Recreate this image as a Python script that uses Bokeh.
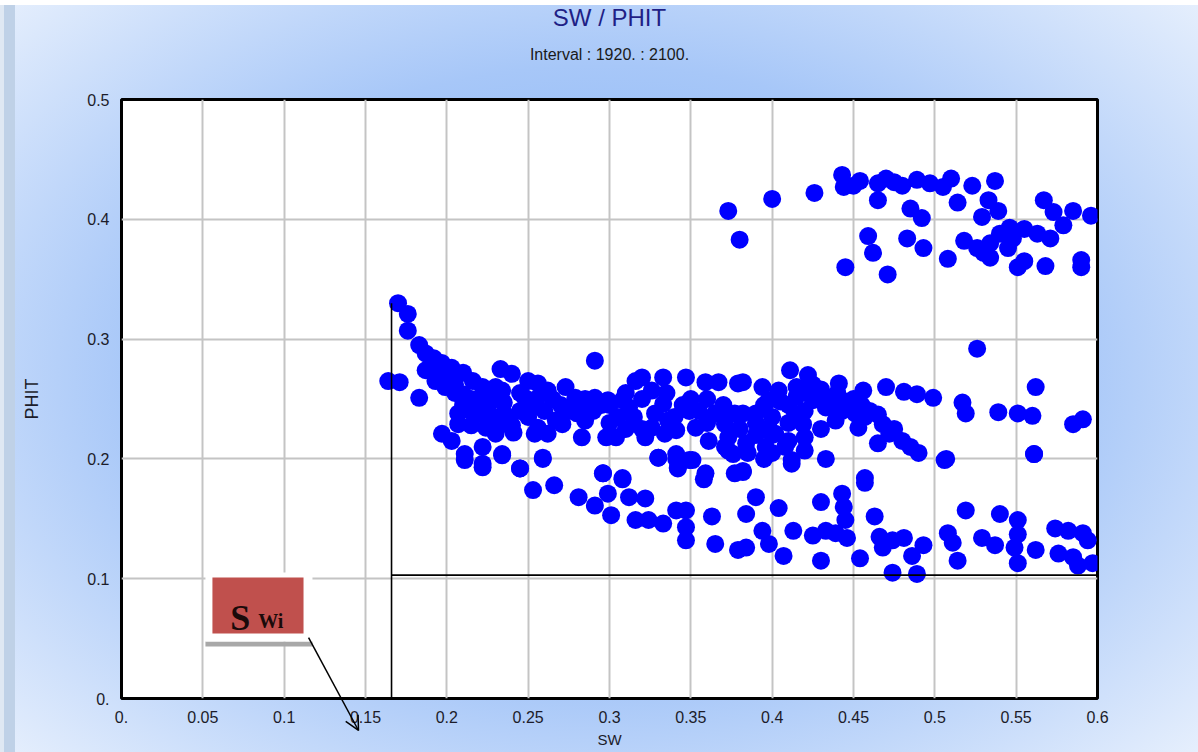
from bokeh.plotting import figure
from bokeh.layouts import column
from bokeh.models import ColumnDataSource, FixedTicker, LinearAxis, Arrow, OpenHead, Range1d
from bokeh.core.properties import value
from bokeh.embed import file_html
from bokeh.resources import INLINE

# ---- data ----
sw = [
    # upper cluster
    0.373, 0.380, 0.400, 0.426, 0.443, 0.444, 0.454, 0.465, 0.475, 0.489, 0.497, 0.465,
    0.510, 0.505, 0.514, 0.523, 0.537, 0.533, 0.529, 0.539, 0.485, 0.492, 0.459, 0.462,
    0.445, 0.471, 0.483, 0.493, 0.508, 0.518, 0.526, 0.534, 0.534, 0.540, 0.546, 0.555,
    0.563, 0.571, 0.551, 0.568, 0.590, 0.590, 0.567, 0.573, 0.579, 0.585, 0.596, 0.526,
    0.450, 0.470, 0.480, 0.530, 0.545, 0.555, 0.548,
    # main band
    0.170, 0.176, 0.176, 0.183, 0.187, 0.192, 0.197, 0.203, 0.210, 0.216, 0.222, 0.187,
    0.193, 0.199, 0.164, 0.171, 0.183, 0.210, 0.207, 0.207, 0.197, 0.203, 0.211, 0.222,
    0.222, 0.234, 0.224, 0.230, 0.219, 0.228, 0.234, 0.233, 0.240, 0.238, 0.241, 0.234,
    0.250, 0.256, 0.262, 0.248, 0.253, 0.256, 0.254, 0.262, 0.267, 0.271, 0.259, 0.245,
    0.273, 0.279, 0.283, 0.285, 0.283, 0.291, 0.291, 0.299, 0.298, 0.304, 0.308, 0.312,
    0.316, 0.320, 0.333, 0.347, 0.359, 0.367, 0.379, 0.326, 0.333, 0.328, 0.322, 0.326,
    0.336, 0.334, 0.341, 0.349, 0.353, 0.361, 0.365, 0.371, 0.377, 0.373, 0.371, 0.330,
    0.341, 0.349, 0.342, 0.359, 0.376, 0.296, 0.308,
    0.411, 0.422, 0.441, 0.456, 0.470, 0.481, 0.489, 0.499, 0.562, 0.517, 0.519, 0.539,
    0.551, 0.560, 0.585, 0.591, 0.561, 0.506, 0.382, 0.394, 0.404, 0.398, 0.382, 0.390,
    0.419, 0.425, 0.433, 0.443, 0.451, 0.457, 0.428, 0.414, 0.398, 0.419, 0.439, 0.453,
    0.468, 0.472, 0.480, 0.490, 0.465, 0.384, 0.396, 0.408, 0.412, 0.420, 0.433, 0.402,
    0.382, 0.457,
    0.205, 0.215, 0.225, 0.235, 0.245, 0.215, 0.228, 0.240, 0.250, 0.260, 0.270, 0.280,
    0.290, 0.300, 0.310, 0.320, 0.335, 0.345, 0.355, 0.360, 0.370, 0.395, 0.405, 0.415,
    0.425, 0.430, 0.435, 0.410, 0.420, 0.390, 0.400, 0.410, 0.430, 0.445, 0.450, 0.460,
    0.195, 0.200, 0.205, 0.210, 0.215, 0.220, 0.230, 0.235, 0.245, 0.255, 0.265, 0.275,
    0.285, 0.295, 0.305, 0.315, 0.320, 0.310, 0.300, 0.340, 0.350, 0.360, 0.370, 0.380,
    0.390, 0.400, 0.410, 0.415, 0.420, 0.435, 0.440, 0.450, 0.455, 0.465, 0.475, 0.485,
    0.400, 0.385, 0.395,
    # lower band
    0.211, 0.222, 0.234, 0.245, 0.259, 0.253, 0.266, 0.281, 0.296, 0.291, 0.299, 0.308,
    0.312, 0.301, 0.322, 0.316, 0.324, 0.333, 0.341, 0.347, 0.347, 0.347, 0.363, 0.365,
    0.379, 0.330, 0.341, 0.342, 0.351, 0.358, 0.377, 0.373,
    0.390, 0.384, 0.404, 0.394, 0.384, 0.398, 0.407, 0.413, 0.430, 0.425, 0.433, 0.439,
    0.430, 0.443, 0.444, 0.445, 0.446, 0.457, 0.454, 0.463, 0.466, 0.468, 0.474, 0.481,
    0.474, 0.489, 0.486, 0.493, 0.508, 0.511, 0.514, 0.519, 0.529, 0.537, 0.540, 0.551,
    0.551, 0.549, 0.551, 0.562, 0.574, 0.582, 0.591, 0.594, 0.576, 0.585, 0.588, 0.597,
    0.507, 0.561, 0.382, 0.412,
]
phit = [
    # upper cluster
    0.407, 0.383, 0.417, 0.422, 0.437, 0.427, 0.432, 0.430, 0.431, 0.433, 0.430, 0.416,
    0.434, 0.427, 0.414, 0.428, 0.432, 0.416, 0.402, 0.407, 0.409, 0.401, 0.386, 0.372,
    0.360, 0.354, 0.384, 0.376, 0.367, 0.382, 0.376, 0.368, 0.380, 0.388, 0.393, 0.392,
    0.388, 0.384, 0.360, 0.361, 0.366, 0.360, 0.416, 0.406, 0.395, 0.407, 0.403, 0.292,
    0.428, 0.434, 0.428, 0.372, 0.376, 0.365, 0.384,
    # main band
    0.330, 0.321, 0.307, 0.295, 0.288, 0.284, 0.280, 0.276, 0.272, 0.265, 0.260, 0.274,
    0.265, 0.260, 0.265, 0.264, 0.251, 0.254, 0.238, 0.229, 0.221, 0.215, 0.204, 0.210,
    0.196, 0.204, 0.226, 0.221, 0.238, 0.249, 0.257, 0.275, 0.271, 0.235, 0.222, 0.229,
    0.265, 0.263, 0.257, 0.251, 0.243, 0.226, 0.221, 0.221, 0.232, 0.229, 0.201, 0.192,
    0.260, 0.251, 0.243, 0.232, 0.218, 0.282, 0.251, 0.249, 0.218, 0.218, 0.249, 0.243,
    0.265, 0.268, 0.268, 0.268, 0.264, 0.264, 0.263, 0.257, 0.246, 0.238, 0.218, 0.226,
    0.232, 0.221, 0.224, 0.240, 0.226, 0.215, 0.238, 0.229, 0.238, 0.218, 0.210, 0.201,
    0.204, 0.199, 0.193, 0.188, 0.204, 0.188, 0.184,
    0.274, 0.270, 0.263, 0.257, 0.260, 0.256, 0.254, 0.251, 0.260, 0.247, 0.238, 0.239,
    0.238, 0.236, 0.229, 0.233, 0.204, 0.199, 0.264, 0.260, 0.257, 0.249, 0.238, 0.238,
    0.257, 0.249, 0.243, 0.240, 0.238, 0.235, 0.255, 0.238, 0.226, 0.229, 0.232, 0.226,
    0.229, 0.221, 0.215, 0.205, 0.213, 0.213, 0.210, 0.210, 0.196, 0.207, 0.200, 0.221,
    0.190, 0.184,
    0.262, 0.250, 0.242, 0.247, 0.255, 0.228, 0.233, 0.228, 0.235, 0.240, 0.245, 0.238,
    0.240, 0.245, 0.255, 0.250, 0.255, 0.245, 0.240, 0.250, 0.245, 0.245, 0.248, 0.252,
    0.262, 0.258, 0.250, 0.230, 0.218, 0.220, 0.205, 0.215, 0.225, 0.248, 0.245, 0.240,
    0.272, 0.268, 0.255, 0.245, 0.240, 0.250, 0.260, 0.238, 0.240, 0.250, 0.250, 0.240,
    0.250, 0.245, 0.235, 0.235, 0.225, 0.225, 0.230, 0.235, 0.250, 0.230, 0.235, 0.225,
    0.230, 0.235, 0.245, 0.260, 0.240, 0.245, 0.255, 0.250, 0.245, 0.237, 0.225, 0.210,
    0.220, 0.205, 0.200,
    # lower band
    0.199, 0.193, 0.203, 0.192, 0.200, 0.174, 0.178, 0.168, 0.188, 0.161, 0.171, 0.183,
    0.168, 0.153, 0.167, 0.149, 0.149, 0.146, 0.157, 0.157, 0.143, 0.132, 0.152, 0.129,
    0.124, 0.201, 0.200, 0.192, 0.199, 0.183, 0.188, 0.207,
    0.168, 0.154, 0.159, 0.140, 0.126, 0.129, 0.119, 0.140, 0.164, 0.136, 0.140, 0.138,
    0.115, 0.171, 0.160, 0.149, 0.134, 0.180, 0.117, 0.152, 0.135, 0.126, 0.132, 0.134,
    0.105, 0.104, 0.119, 0.128, 0.138, 0.130, 0.115, 0.157, 0.134, 0.128, 0.154, 0.149,
    0.137, 0.126, 0.113, 0.124, 0.142, 0.140, 0.138, 0.132, 0.121, 0.118, 0.111, 0.113,
    0.200, 0.204, 0.189, 0.199,
]

x_ticks = [0, 0.05, 0.1, 0.15, 0.2, 0.25, 0.3, 0.35, 0.4, 0.45, 0.5, 0.55, 0.6]
x_labels = ["0.", "0.05", "0.1", "0.15", "0.2", "0.25", "0.3", "0.35", "0.4", "0.45", "0.5", "0.55", "0.6"]
y_ticks = [0, 0.1, 0.2, 0.3, 0.4, 0.5]
y_labels = ["0.", "0.1", "0.2", "0.3", "0.4", "0.5"]

swi_value = 0.166      # irreducible water saturation cut-off
phit_cut = 0.103       # porosity cut-off
phit_top = 0.330

source = ColumnDataSource(dict(sw=sw, phit=phit))

W, H = 1198, 752
BL, BR, BT, BB = 121, 101, 99, 54

p = figure(width=W, height=H, output_backend="svg", toolbar_location=None,
           title=None, x_range=Range1d(0, 0.6), y_range=Range1d(0, 0.5),
           min_border_left=BL, min_border_right=BR, min_border_top=BT, min_border_bottom=BB)

p.styles = {"background": "linear-gradient(to bottom, #ffffff 0px, #ffffff 5px, rgba(255,255,255,0) 5px), "
                          "linear-gradient(to right, #dfe8f3 0px, #dfe8f3 4px, #bfd1e7 4px, #bfd1e7 15px, rgba(255,255,255,0) 15px), "
                          "radial-gradient(ellipse 70% 75% at 50% 50%, #78abf4 0%, #a7c7f8 55%, #e9f1fd 100%)"}
p.border_fill_color = None
p.background_fill_color = "white"
p.outline_line_color = "black"
p.outline_line_width = 3


def label_axis(text, size, color, standoff):
    return LinearAxis(ticker=FixedTicker(ticks=[]), axis_label=text,
                      axis_line_color=None, major_tick_line_color=None, minor_tick_line_color=None,
                      major_tick_out=0, major_label_standoff=0,
                      axis_label_standoff=standoff, axis_label_text_font="Liberation Sans",
                      axis_label_text_font_style="normal", axis_label_text_font_size=size,
                      axis_label_text_color=color)


# title block: subtitle nearest to the frame, main title above it
p.add_layout(label_axis("Interval : 1920. : 2100.", "16px", "#1a1a1a", 37), "above")
p.add_layout(label_axis("SW / PHIT", "24px", "#1f1f86", 12), "above")

# grid
p.xgrid.ticker = FixedTicker(ticks=x_ticks)
p.ygrid.ticker = FixedTicker(ticks=y_ticks)
p.grid.grid_line_color = "#c4c4c4"
p.grid.grid_line_width = 2

# axes
xa = p.below[0]
ya = p.left[0]
xa.ticker = FixedTicker(ticks=x_ticks)
ya.ticker = FixedTicker(ticks=y_ticks)
xa.major_label_overrides = {t: l for t, l in zip(x_ticks, x_labels)}
ya.major_label_overrides = {t: l for t, l in zip(y_ticks, y_labels)}
for ax in (xa, ya):
    ax.axis_line_color = None
    ax.major_tick_line_color = None
    ax.minor_tick_line_color = None
    ax.major_label_text_font = "Liberation Sans"
    ax.major_label_text_font_size = "16px"
    ax.major_label_text_color = "#1c1c2a"
    ax.axis_label_text_font = "Liberation Sans"
    ax.axis_label_text_font_style = "normal"
    ax.axis_label_text_color = "#1c1c2a"
xa.axis_label = "SW"
ya.axis_label = "PHIT"
xa.axis_label_text_font_size = "15px"
ya.axis_label_text_font_size = "18px"
xa.major_label_standoff = 6
ya.major_label_standoff = 6
xa.axis_label_standoff = 5
ya.axis_label_standoff = 42

# points
p.scatter("sw", "phit", source=source, size=18, fill_color="#0000ff", line_color=None)

# cut-off lines
p.segment(x0=[swi_value], y0=[0], x1=[swi_value], y1=[phit_top], line_color="black", line_width=1.6)
p.segment(x0=[swi_value], y0=[phit_cut], x1=[0.6], y1=[phit_cut], line_color="black", line_width=1.6)

# Swi callout box
p.quad(left=[0.0516], right=[0.1174], bottom=[0.0434], top=[0.0476], fill_color="#a8a8a8", line_color=None)
p.quad(left=[0.0516], right=[0.1174], bottom=[0.0476], top=[0.1052], fill_color="white", line_color=None)
p.quad(left=[0.0559], right=[0.1119], bottom=[0.0543], top=[0.1010], fill_color="#c0504d", line_color=None)
p.text(x=[0.0668], y=[0.0668], text=["S"], text_font=value("Liberation Serif"), text_font_style="bold",
       text_font_size="36px", text_color="#1a0a0a", text_baseline="alphabetic")
p.text(x=[0.0840], y=[0.0651], text=["Wi"], text_font=value("Liberation Serif"), text_font_style="bold",
       text_font_size="20px", text_color="#1a0a0a", text_baseline="alphabetic")

# callout arrow: drawn on a transparent full-page overlay figure. The column layout aligns
# its frame horizontally with the main frame, so the x range is the same; vertically its frame
# spans the whole canvas, so the y range is extended to keep the same data scale.
fh = H - BT - BB
sy = 0.5 / fh
ov = figure(width=W, height=H, output_backend="svg", toolbar_location=None,
            x_axis_type=None, y_axis_type=None,
            x_range=Range1d(0, 0.6), y_range=Range1d(-BB * sy, 0.5 + BT * sy),
            min_border=0, min_border_left=0, min_border_right=0, min_border_top=0, min_border_bottom=0)
ov.outline_line_color = None
ov.border_fill_color = None
ov.background_fill_color = None
ov.styles = {"position": "absolute", "left": "0px", "top": "0px"}
a_x0, a_y0, a_x1, a_y1 = 0.115, 0.0509, 0.1457, -0.0267
ov.add_layout(Arrow(x_start=a_x0, y_start=a_y0, x_end=a_x1, y_end=a_y1,
                    line_color="black", line_width=1.5,
                    end=OpenHead(size=14, line_color="black", line_width=1.5)))

layout = column(p, ov, spacing=0)
open("out.html", "w").write(file_html(layout, INLINE))
